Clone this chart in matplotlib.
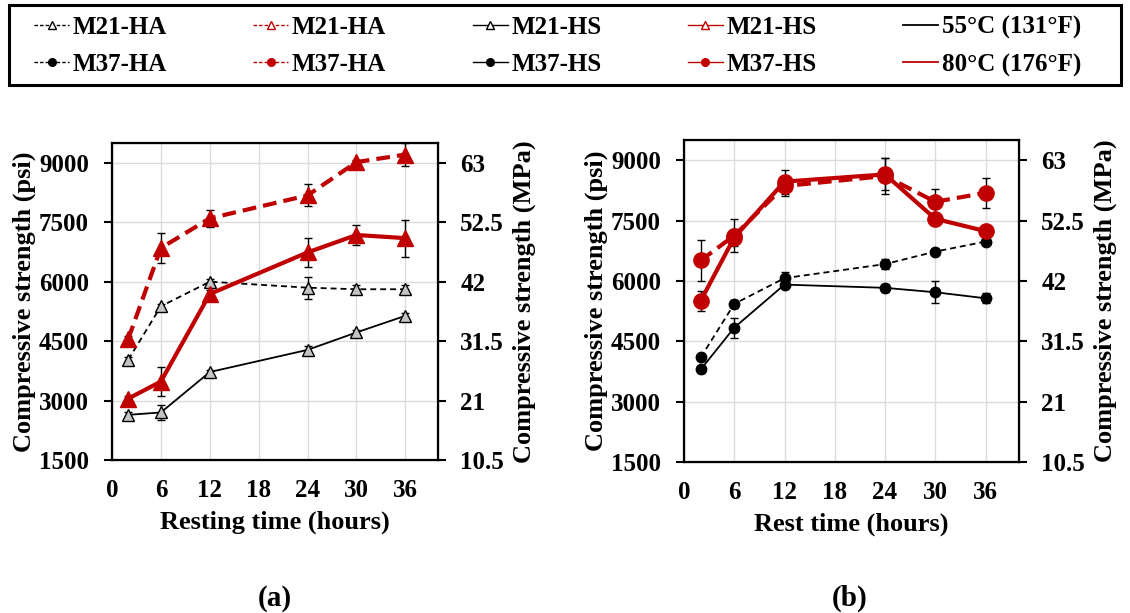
import matplotlib.pyplot as plt
from matplotlib.lines import Line2D
from matplotlib.patches import Rectangle

plt.rcParams['font.family'] = ['Liberation Serif', 'DejaVu Serif']
plt.rcParams['font.weight'] = 'bold'
plt.rcParams['axes.labelweight'] = 'bold'

hours = [2, 6, 12, 24, 30, 36]

# (a) M21 mixes, compressive strength in psi
m21_ha_55 = [4030, 5380, 6000, 5850, 5810, 5810]
m21_ha_55_err = [60, 60, 80, 280, 100, 100]
m21_ha_80 = [4560, 6850, 7600, 8180, 9020, 9210]
m21_ha_80_err = [80, 380, 220, 280, 60, 300]
m21_hs_55 = [2640, 2700, 3720, 4280, 4720, 5140]
m21_hs_55_err = [60, 180, 60, 100, 60, 80]
m21_hs_80 = [3050, 3480, 5690, 6740, 7180, 7100]
m21_hs_80_err = [60, 360, 100, 375, 260, 470]

# (b) M37 mixes
m37_ha_55 = [4100, 5430, 6070, 6420, 6730, 6980]
m37_ha_55_err = [80, 100, 160, 120, 60, 60]
m37_hs_55 = [3800, 4840, 5910, 5830, 5720, 5570]
m37_hs_55_err = [80, 250, 80, 100, 270, 120]
m37_ha_80 = [6510, 7130, 8360, 8610, 7970, 8190]
m37_ha_80_err = [510, 400, 250, 450, 320, 380]
m37_hs_80 = [5510, 7080, 8470, 8650, 7545, 7240]
m37_hs_80_err = [250, 200, 300, 400, 150, 120]

psi_ticks = [1500, 3000, 4500, 6000, 7500, 9000]
x_ticks = [0, 6, 12, 18, 24, 30, 36]
psi_to_mpa = 0.007

RED = '#c00000'
FS = 18
LFS = 19


def style(kind, hot):
    # kind: 'tri' or 'dot'; hot: 80 C series in red
    if kind == 'tri':
        if hot:
            return dict(marker='^', ms=12, mfc=RED, mec=RED)
        return dict(marker='^', ms=8.5, mfc='#c4c4c4', mec='black', mew=1.0)
    if hot:
        return dict(marker='o', ms=11, mfc=RED, mec=RED)
    return dict(marker='o', ms=7.5, mfc='black', mec='black')


def draw(ax, series, xlabel):
    for y, err, ls, hot, kind in series:
        color = RED if hot else 'black'
        lw = 3.0 if hot else 1.3
        cont = ax.errorbar(hours, y, yerr=err, color=color, ecolor='black',
                           elinewidth=1.0, capsize=3, capthick=1.0, lw=lw,
                           zorder=3 if hot else 2, **style(kind, hot))
        if ls == '--':
            cont[0].set_dashes((3.3, 1.7) if hot else (3.3, 2.2))
    ax.set_xlim(0, 40)
    ax.set_ylim(1500, 9500)
    ax.set_xticks(x_ticks)
    ax.set_yticks(psi_ticks)
    ax.grid(True, color='#dcdcdc', lw=1.0)
    ax.set_axisbelow(True)
    ax.tick_params(axis='x', length=0, labelsize=FS, pad=14)
    ax.tick_params(axis='y', direction='out', length=6, width=1.5,
                   labelsize=FS, pad=10.5)
    for s in ax.spines.values():
        s.set_linewidth(1.6)
    ax.set_xlabel(xlabel, fontsize=LFS, labelpad=6)
    ax.set_ylabel('Compressive strength (psi)', fontsize=LFS, labelpad=2)

    ax2 = ax.twinx()
    ax2.set_ylim(1500 * psi_to_mpa, 9500 * psi_to_mpa)
    mpa = [round(t * psi_to_mpa, 1) for t in psi_ticks]
    ax2.set_yticks(mpa)
    ax2.set_yticklabels([f'{v:g}' for v in mpa])
    ax2.tick_params(axis='y', direction='out', length=6, width=1.5,
                    labelsize=FS, pad=10)
    ax2.set_ylabel('Compressive strength (MPa)', fontsize=LFS, labelpad=6)


fig = plt.figure(figsize=(11.3, 6.13), dpi=100)
ax_a = fig.add_axes([0.0991, 0.2496, 0.2885, 0.517])
ax_b = fig.add_axes([0.6053, 0.2463, 0.2965, 0.525])

draw(ax_a, [
    (m21_ha_55, m21_ha_55_err, '--', False, 'tri'),
    (m21_hs_55, m21_hs_55_err, '-', False, 'tri'),
    (m21_ha_80, m21_ha_80_err, '--', True, 'tri'),
    (m21_hs_80, m21_hs_80_err, '-', True, 'tri'),
], 'Resting time (hours)')

draw(ax_b, [
    (m37_ha_55, m37_ha_55_err, '--', False, 'dot'),
    (m37_hs_55, m37_hs_55_err, '-', False, 'dot'),
    (m37_ha_80, m37_ha_80_err, '--', True, 'dot'),
    (m37_hs_80, m37_hs_80_err, '-', True, 'dot'),
], 'Rest time (hours)')

fig.text(275 / 1130, 1 - 598 / 613, '(a)', fontsize=21, ha='center', va='center')
fig.text(850 / 1130, 1 - 598 / 613, '(b)', fontsize=21, ha='center', va='center')


def handle(color, ls, marker, mfc):
    h = Line2D([], [], color=color, ls=ls, lw=1.0, marker=marker,
               ms=5.5, mfc=mfc, mec=color)
    if ls == '--':
        h.set_dashes((2.5, 1.5))
    return h


# ncol=5 fills column by column: two rows per column
handles = [
    handle('black', '--', '^', 'white'), handle('black', '--', 'o', 'black'),
    handle(RED, '--', '^', 'white'), handle(RED, '--', 'o', RED),
    handle('black', '-', '^', 'white'), handle('black', '-', 'o', 'black'),
    handle(RED, '-', '^', 'white'), handle(RED, '-', 'o', RED),
    Line2D([], [], color='black', lw=1.3), Line2D([], [], color=RED, lw=1.3),
]
labels = ['M21-HA', 'M37-HA', 'M21-HA', 'M37-HA', 'M21-HS', 'M37-HS',
          'M21-HS', 'M37-HS', '55°C (131°F)', '80°C (176°F)']
leg = fig.legend(handles, labels, ncol=5, loc='upper left',
                 bbox_to_anchor=(34 / 1130, 1 - 16 / 613),
                 fontsize=FS, frameon=False, handlelength=1.4,
                 handletextpad=0.15, columnspacing=3.45, labelspacing=0.55,
                 borderpad=0, borderaxespad=0)

# legend frame
fig.patches.append(Rectangle((9 / 1130, 1 - 85 / 613), 1112 / 1130, 80 / 613,
                             transform=fig.transFigure, fill=False,
                             edgecolor='black', lw=2.2))

fig.savefig('out.png', dpi=100)
